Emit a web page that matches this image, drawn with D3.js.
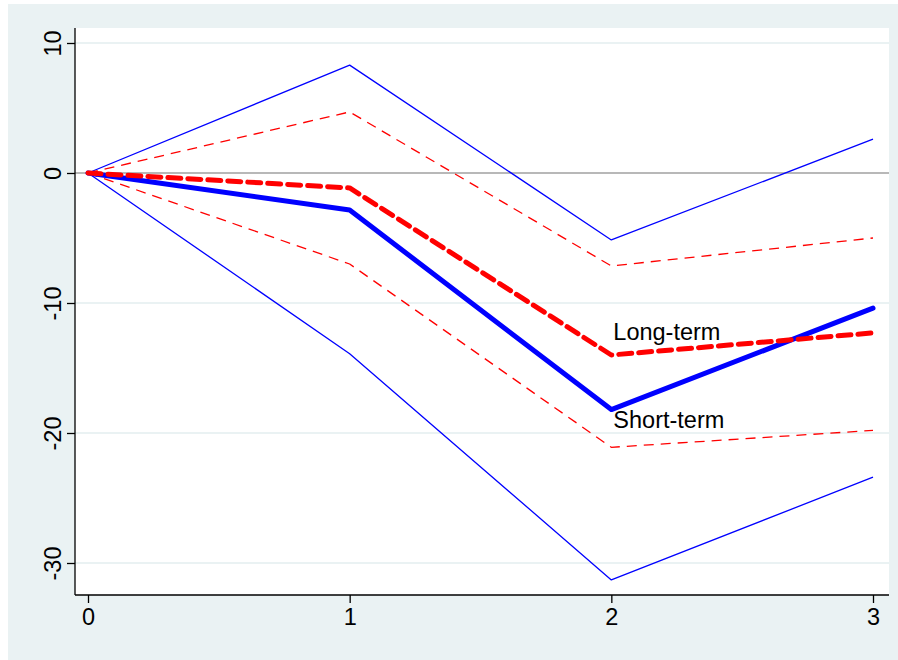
<!DOCTYPE html>
<html>
<head>
<meta charset="utf-8">
<script src="https://d3js.org/d3.v7.min.js"></script>
<style>
  body { margin: 0; background: #fff; }
  svg text { font-family: "Liberation Sans", Arial, sans-serif; }
</style>
</head>
<body>
<div id="chart"></div>
<script>
// data
const horizons = [0, 1, 2, 3];
const shortTerm = [0, -2.85, -18.2, -10.4];
const shortUpper = [0, 8.3, -5.15, 2.6];
const shortLower = [0, -13.9, -31.3, -23.4];
const longTerm = [0, -1.15, -14.0, -12.3];
const longUpper = [0, 4.7, -7.15, -5.0];
const longLower = [0, -7.0, -21.1, -19.8];
const yTicks = [10, 0, -10, -20, -30];
const xTicks = [0, 1, 2, 3];

const width = 898, height = 660;
const plot = { left: 75, right: 889, top: 28, bottom: 595 };

const svg = d3.select("#chart").append("svg")
  .attr("width", width).attr("height", height);

// outer background and plot region
svg.append("rect").attr("x", 8).attr("y", 4)
  .attr("width", width - 8).attr("height", height - 4).attr("fill", "#eaf2f3");
svg.append("rect").attr("x", plot.left).attr("y", plot.top)
  .attr("width", plot.right - plot.left).attr("height", plot.bottom - plot.top)
  .attr("fill", "#fff");

const x = d3.scaleLinear().domain([0, 3]).range([88, 873]);
const y = d3.scaleLinear().domain([10, -30]).range([43, 563]);

// grid lines
svg.append("g").selectAll("line")
  .data(yTicks.filter(d => d !== 0))
  .join("line")
  .attr("x1", plot.left).attr("x2", plot.right)
  .attr("y1", d => y(d)).attr("y2", d => y(d))
  .attr("stroke", "#eaf2f3").attr("stroke-width", 2.2);

// zero reference line
svg.append("line")
  .attr("x1", plot.left).attr("x2", plot.right)
  .attr("y1", y(0)).attr("y2", y(0))
  .attr("stroke", "#a0a0a0").attr("stroke-width", 1.5);

// axes (plain hyphen for minus, like the original)
const fmt = d => String(d);

const yAxis = svg.append("g")
  .attr("transform", `translate(${plot.left},0)`)
  .call(d3.axisLeft(y).tickValues(yTicks).tickSize(8).tickFormat(fmt));
yAxis.select(".domain").attr("d", `M0,${plot.top}V${plot.bottom}`).attr("stroke", "#000").attr("stroke-width", 1.3);
yAxis.selectAll(".tick line").attr("stroke", "#000").attr("stroke-width", 1.3);
yAxis.selectAll(".tick text")
  .attr("font-size", 23.5).attr("fill", "#000")
  .attr("transform", "rotate(-90)")
  .attr("x", 0).attr("y", -14)
  .attr("dy", 0)
  .attr("text-anchor", "middle");

const xAxis = svg.append("g")
  .attr("transform", `translate(0,${plot.bottom})`)
  .call(d3.axisBottom(x).tickValues(xTicks).tickSize(8).tickPadding(5).tickFormat(fmt));
xAxis.select(".domain").attr("d", `M${plot.left},0H${plot.right}`).attr("stroke", "#000").attr("stroke-width", 1.3);
xAxis.selectAll(".tick line").attr("stroke", "#000").attr("stroke-width", 1.3);
xAxis.selectAll(".tick text").attr("font-size", 23.5).attr("fill", "#000");

// lines
const line = d3.line().x((d, i) => x(horizons[i])).y(d => y(d));
const series = [
  { values: shortUpper, color: "#0000ff", w: 1.3, dash: null },
  { values: shortLower, color: "#0000ff", w: 1.3, dash: null },
  { values: longUpper, color: "#ff0000", w: 1.3, dash: "10,7" },
  { values: longLower, color: "#ff0000", w: 1.3, dash: "10,7" },
  { values: shortTerm, color: "#0000ff", w: 5, dash: null },
  { values: longTerm, color: "#ff0000", w: 5, dash: "13,7" }
];
svg.append("g").selectAll("path")
  .data(series)
  .join("path")
  .attr("d", d => line(d.values))
  .attr("fill", "none")
  .attr("stroke", d => d.color)
  .attr("stroke-width", d => d.w)
  .attr("stroke-dasharray", d => d.dash)
  .attr("stroke-linecap", d => d.w > 3 ? "round" : "butt")
  .attr("stroke-linejoin", "round");

// labels
svg.append("text").attr("x", x(2) + 2).attr("y", y(-12.85))
  .attr("font-size", 23.5).text("Long-term");
svg.append("text").attr("x", x(2) + 2).attr("y", y(-19.6))
  .attr("font-size", 23.5).text("Short-term");
</script>
</body>
</html>
